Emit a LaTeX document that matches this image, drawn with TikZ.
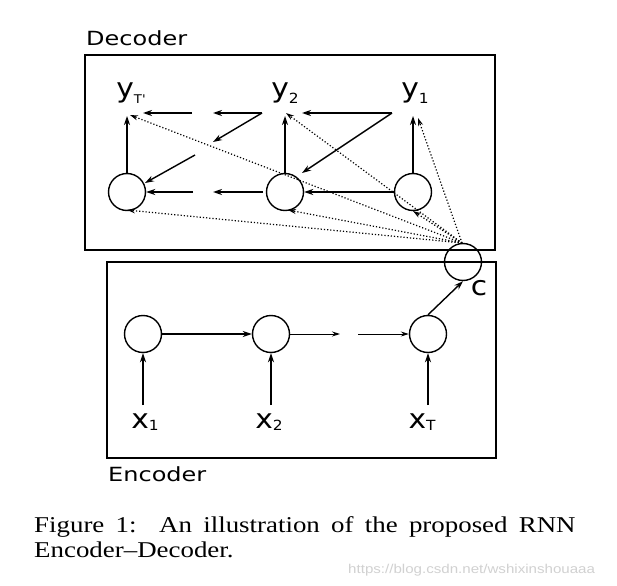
\documentclass[tikz,border=0pt]{standalone}
\usepackage{fontspec}
\usepackage{graphicx}
\setmainfont{DejaVu Sans}
\newfontfamily\capfont{Liberation Serif}
\newfontfamily\wmfont{Liberation Sans}
\usetikzlibrary{arrows.meta}
\newcommand\lbl[3]{\scalebox{1.1}[1]{#1\raisebox{-#3}{\fontsize{14}{14}\selectfont #2}}}
\newcommand\lblT{\scalebox{1.1}[1]{y\raisebox{-6pt}{\fontsize{12}{12}\selectfont T\textquotesingle}}}
\begin{document}
\begin{tikzpicture}[x=1pt,y=-1pt,
  box/.style={draw,line width=1.5pt},
  cell/.style={draw,circle,line width=1.4pt,minimum size=37pt,inner sep=0pt},
  sym/.style={font=\fontsize{27}{27}\selectfont,inner sep=0pt,anchor=base},
  arr/.style={line width=1.4pt,-{Stealth[length=9pt,width=6pt]}},
  thin/.style={line width=1pt,-{Stealth[length=8pt,width=5pt]}},
  dot/.style={line width=1.2pt,dotted,-{Stealth[length=8pt,width=5pt]}},
  title/.style={font=\fontsize{19.5}{19.5}\selectfont,anchor=base west,inner sep=0pt}]
\useasboundingbox (0,0) rectangle (617,585);
\fill[white] (0,0) rectangle (617,585);
% boxes
\draw[box] (85,55) rectangle (495,250);
\draw[box] (107,262) rectangle (496,458);
\node[title] (dec) at (86,46) {\scalebox{1.23}[1]{Decoder}};
\node[title] (enc) at (108,481) {\scalebox{1.23}[1]{Encoder}};
% decoder
\node[cell] (d1) at (127,192) {};
\node[cell] (d2) at (285,192) {};
\node[cell] (d3) at (413,192) {};
\node[sym] (yT) at (131,98) {\lblT};
\node[sym] (y2) at (285,98) {\lbl{y}{2}{6pt}};
\node[sym] (y1) at (415,98) {\lbl{y}{1}{6pt}};
\coordinate (yTa) at (127,116);
\coordinate (y2a) at (285,116);
\coordinate (y1a) at (413,116);
\draw[arr] (d1.north) -- (yTa);
\draw[arr] (d2.north) -- (y2a);
\draw[arr] (d3.north) -- (y1a);
% top row
\coordinate (t1) at (392,113);
\coordinate (t2) at (302,113);
\coordinate (t3) at (262,113);
\coordinate (t4) at (213,113);
\coordinate (t5) at (192,113);
\coordinate (t6) at (143,113);
\coordinate (g1) at (213,142);
\coordinate (g2) at (195,155);
\coordinate (g3) at (145,183);
\coordinate (g4) at (302,173);
\draw[arr] (t1) -- (t2);
\draw[arr] (t1) -- (g4);
\draw[arr] (t3) -- (t4);
\draw[arr] (t3) -- (g1);
\draw[arr] (t5) -- (t6);
\draw[arr] (g2) -- (g3);
% bottom row
\coordinate (b1) at (263,192);
\coordinate (b2) at (213,192);
\coordinate (b3) at (193,192);
\draw[arr] (d3.west) -- (d2.east);
\draw[arr] (b1) -- (b2);
\draw[arr] (b3) -- (d1.east);
% encoder
\node[cell] (e1) at (143,334) {};
\node[cell] (e2) at (271,334) {};
\node[cell] (e3) at (428,334) {};
\node[cell] (c) at (463,262) {};
\node[sym] (cl) at (479,295) {\scalebox{1.1}[1]{c}};
\node[sym] (x1) at (145,428) {\lbl{x}{1}{2pt}};
\node[sym] (x2) at (269,428) {\lbl{x}{2}{2pt}};
\node[sym] (xT) at (422,428) {\lbl{x}{T}{2pt}};
\coordinate (x1a) at (143,405);
\coordinate (x2a) at (271,405);
\coordinate (xTa) at (428,405);
\draw[arr] (x1a) -- (e1.south);
\draw[arr] (x2a) -- (e2.south);
\draw[arr] (xTa) -- (e3.south);
\draw[arr] (e1.east) -- (e2.west);
\coordinate (m1) at (340,334);
\coordinate (m2) at (358,334);
\draw[thin] (e2.east) -- (m1);
\draw[thin] (m2) -- (e3.west);
\draw[arr] (e3.north) -- (c.south);
% dotted
\coordinate (cs) at (462,243);
\draw[dot] (cs) -- (130,115);
\draw[dot] (cs) -- (286,113);
\draw[dot] (cs) -- (418,118);
\draw[dot] (cs) -- (127,210);
\draw[dot] (cs) -- (288,210);
\draw[dot] (cs) -- (413,211);
% caption
\node[anchor=north west,inner sep=0pt] (cap) at (34,516) {\scalebox{1.19}[1]{\parbox[t]{455pt}{\capfont\fontsize{22.6}{25}\selectfont\noindent Figure 1:\ \ An illustration of the proposed RNN Encoder\textendash Decoder.}}};
\node[anchor=base west,inner sep=0pt,text=black!18] (wm) at (348,573) {\scalebox{1.18}[1]{\wmfont\fontsize{12.8}{12.8}\selectfont https://blog.csdn.net/wshixinshouaaa}};
\end{tikzpicture}
\end{document}
